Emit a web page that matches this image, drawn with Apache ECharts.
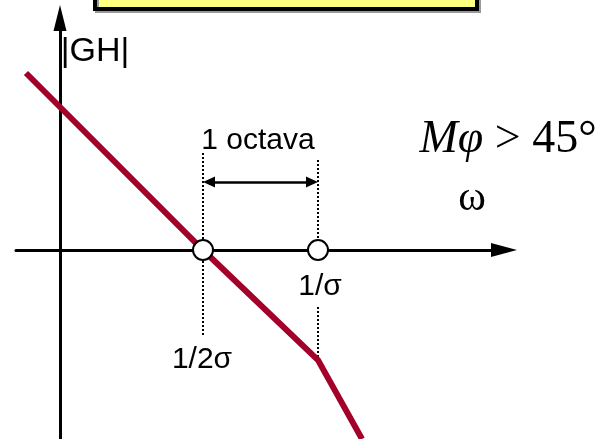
<!DOCTYPE html>
<html>
<head>
<meta charset="utf-8">
<script src="https://cdn.jsdelivr.net/npm/echarts@6/dist/echarts.min.js"></script>
<style>
  html, body { margin: 0; padding: 0; background: #fff; }
  #chart { width: 599px; height: 439px; }
</style>
</head>
<body>
<div id="chart"></div>
<script>
// asymptotic |GH| sketch, units are roughly px from the axes origin
var gainX = [-34, 143, 258, 302];
var gainY = [177, 0, -110, -189];

// break frequencies marked on the w axis
var breakX = [143, 258];
var breakLabels = ['1/2\u03c3', '1/\u03c3'];

// dotted guides [x, yFrom, yTo]
var guides = [[143, 97, -87], [258, 90, 0], [258, -57, -110]];

// octave arrow (heads are 12 long, centred on the ends)
var arrowY = 68;
var arrowHead = 12;

// text annotations [x, y, text]
var notes = [
    [35, 198, '|GH|'],
    [198, 109, '1 octava'],
    [448, 110, '{i|M\u03c6} > 45\u00b0'],
    [412, 51, '\u03c9'],
    [260, -37, breakLabels[1]],
    [142, -110, breakLabels[0]]
];

var myChart = echarts.init(document.getElementById('chart'));

var sans = '"Liberation Sans", Arial, sans-serif';
var serif = '"Liberation Serif", "Times New Roman", serif';

var gainData = [];
for (var i = 0; i < gainX.length; i++) gainData.push([gainX[i], gainY[i]]);

var guideSeries = guides.map(function (g) {
    return {
        type: 'line',
        data: [[g[0], g[1]], [g[0], g[2]]],
        symbol: 'none',
        silent: true,
        z: 1,
        lineStyle: { color: '#000', width: 2, type: [2, 2] }
    };
});

var noteStyles = [
    { fontFamily: sans, fontSize: 34 },
    { fontFamily: sans, fontSize: 30 },
    { fontFamily: serif, fontSize: 46, rich: { i: { fontFamily: serif, fontSize: 46, fontStyle: 'italic', color: '#000' } } },
    { fontFamily: serif, fontSize: 42 },
    { fontFamily: sans, fontSize: 30 },
    { fontFamily: sans, fontSize: 30 }
];

var noteData = notes.map(function (n, k) {
    var st = noteStyles[k];
    var lab = {
        show: true,
        position: 'inside',
        formatter: n[2],
        color: '#000',
        opacity: 1,
        fontFamily: st.fontFamily,
        fontSize: st.fontSize
    };
    if (st.rich) lab.rich = st.rich;
    return { value: [n[0], n[1]], label: lab };
});

option = {
    animation: false,
    backgroundColor: '#fff',
    grid: { left: 16, right: 95, top: 18, bottom: 0, containLabel: false },
    xAxis: {
        type: 'value',
        min: -44,
        max: 444,
        axisLine: {
            onZero: true,
            symbol: ['none', 'triangle'],
            symbolSize: [14, 26],
            lineStyle: { color: '#000', width: 3 }
        },
        axisTick: { show: false },
        axisLabel: { show: false },
        splitLine: { show: false }
    },
    yAxis: {
        type: 'value',
        min: -189,
        max: 232,
        axisLine: {
            onZero: true,
            symbol: ['none', 'triangle'],
            symbolSize: [13, 26],
            lineStyle: { color: '#000', width: 3 }
        },
        axisTick: { show: false },
        axisLabel: { show: false },
        splitLine: { show: false }
    },
    graphic: [{
        type: 'rect',
        shape: { x: 95, y: -18, width: 382, height: 27 },
        style: {
            fill: '#ffff80', stroke: '#000', lineWidth: 4,
            shadowColor: '#999', shadowOffsetX: 2, shadowOffsetY: 2, shadowBlur: 0
        },
        z: 10
    }],
    series: guideSeries.concat([
        {
            type: 'line',
            data: [[breakX[0], arrowY], [breakX[1], arrowY]],
            symbol: 'none',
            silent: true,
            lineStyle: { width: 0 },
            markLine: {
                silent: true,
                symbol: ['triangle', 'triangle'],
                symbolSize: [11, arrowHead],
                label: { show: false },
                lineStyle: { color: '#000', width: 2.5, type: 'solid' },
                data: [[
                    { coord: [breakX[0] + arrowHead / 2, arrowY] },
                    { coord: [breakX[1] - arrowHead / 2, arrowY] }
                ]]
            }
        },
        {
            type: 'line',
            data: gainData,
            symbol: 'none',
            z: 3,
            lineStyle: { color: '#a3002a', width: 6, cap: 'butt', join: 'miter' }
        },
        {
            type: 'scatter',
            data: breakX.map(function (x) { return [x, 0]; }),
            symbol: 'circle',
            symbolSize: 20,
            z: 4,
            itemStyle: { color: '#fff', borderColor: '#000', borderWidth: 2, opacity: 1 }
        },
        {
            type: 'scatter',
            data: noteData,
            symbolSize: 0,
            silent: true,
            clip: false,
            z: 5,
            itemStyle: { opacity: 1 }
        }
    ])
};

myChart.setOption(option);
</script>
</body>
</html>
